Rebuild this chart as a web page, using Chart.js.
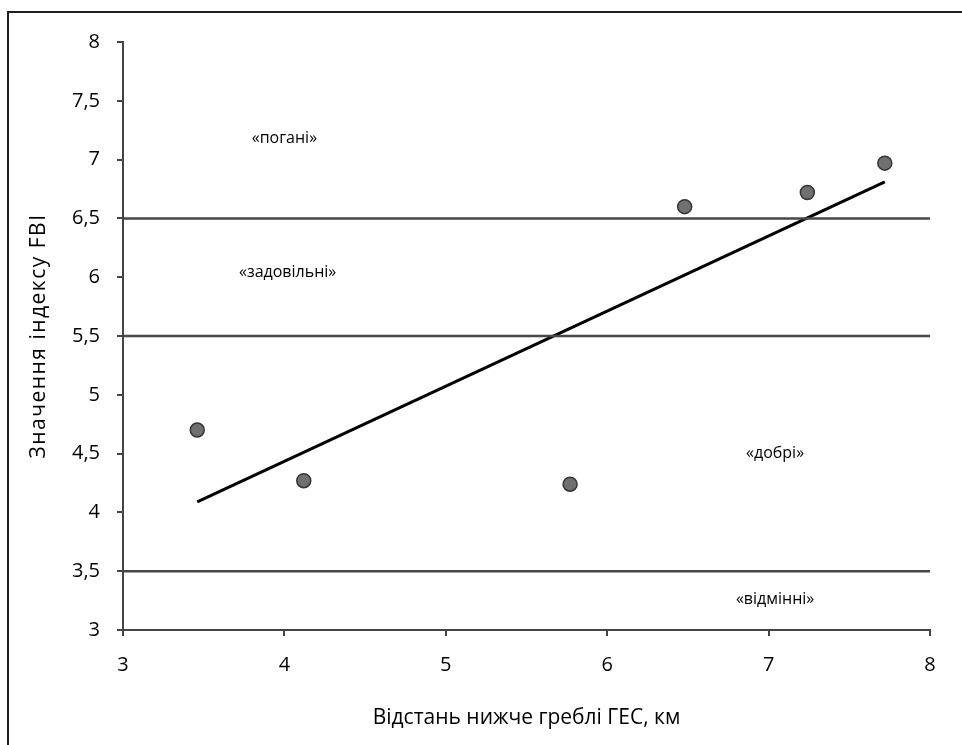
<!DOCTYPE html>
<html>
<head>
<meta charset="utf-8">
<script src="https://cdn.jsdelivr.net/npm/chart.js@4/dist/chart.umd.min.js"></script>
<style>
  html, body { margin: 0; padding: 0; background: #fff; }
  #frame {
    position: absolute; left: 7px; top: 11px; width: 953px; height: 732px;
    border-left: 2px solid #1e1e1e; border-top: 2px solid #1e1e1e;
  }
  #c { display: block; }
</style>
</head>
<body>
<div id="frame"><canvas id="c" width="953" height="732"></canvas></div>
<script>
// ---- data ----
const distanceKm = [3.46, 4.12, 5.77, 6.48, 7.24, 7.72];
const fbiValues  = [4.70, 4.27, 4.24, 6.60, 6.72, 6.97];
const trendX = [3.46, 7.72];
const trendY = [4.09, 6.81];
const classBounds = [3.5, 5.5, 6.5];
const zoneLabels = ['«відмінні»', '«добрі»', '«задовільні»', '«погані»'];
const zoneX = [7.04, 7.04, 4.02, 4.00];
const zoneY = [3.26, 4.50, 6.04, 7.18];
const xRange = [3, 8];
const yRange = [3, 8];
const xTickLabels = ['3', '4', '5', '6', '7', '8'];
const yTickLabels = ['3', '3,5', '4', '4,5', '5', '5,5', '6', '6,5', '7', '7,5', '8'];
const xTitle = 'Відстань нижче греблі ГЕС, км';
const yTitle = 'Значення індексу FBI';

const FONT = "'Open Sans', 'DejaVu Sans', sans-serif";

const datasets = [];
classBounds.forEach(b => {
  datasets.push({
    type: 'line',
    data: [{x: xRange[0], y: b}, {x: xRange[1], y: b}],
    borderColor: '#474747', borderWidth: 2.5, pointRadius: 0, fill: false
  });
});
datasets.push({
  type: 'line',
  data: trendX.map((x, i) => ({x, y: trendY[i]})),
  borderColor: '#000', borderWidth: 3, pointRadius: 0, fill: false
});
datasets.push({
  type: 'scatter',
  data: distanceKm.map((x, i) => ({x, y: fbiValues[i]})),
  backgroundColor: '#707070', borderColor: '#353535', borderWidth: 1.5,
  pointRadius: 7, pointHoverRadius: 7
});

const zonePlugin = {
  id: 'zones',
  afterDatasetsDraw(chart) {
    const {ctx, scales} = chart;
    ctx.save();
    ctx.fillStyle = '#000';
    ctx.font = "16px " + FONT;
    ctx.textAlign = 'center';
    ctx.textBaseline = 'middle';
    zoneLabels.forEach((t, i) => {
      ctx.fillText(t, scales.x.getPixelForValue(zoneX[i]), scales.y.getPixelForValue(zoneY[i]));
    });
    ctx.restore();
  },
  afterDraw(chart) {
    // y-axis title (drawn with a little letter spacing like the reference)
    const {ctx, chartArea} = chart;
    ctx.save();
    ctx.fillStyle = '#000';
    ctx.font = "21px " + FONT;
    if ('letterSpacing' in ctx) ctx.letterSpacing = '1.5px';
    ctx.textAlign = 'center';
    ctx.textBaseline = 'middle';
    ctx.translate(30, (chartArea.top + chartArea.bottom) / 2);
    ctx.rotate(-Math.PI / 2);
    ctx.fillText(yTitle, 0, 0);
    ctx.restore();
  }
};

new Chart(document.getElementById('c'), {
  data: { datasets },
  plugins: [zonePlugin],
  options: {
    responsive: false,
    animation: false,
    events: [],
    layout: { padding: { left: 0, top: 29, right: 32, bottom: 0 } },
    plugins: { legend: { display: false }, tooltip: { enabled: false } },
    scales: {
      x: {
        type: 'linear', min: xRange[0], max: xRange[1],
        afterFit(s) { s.height = 115; },
        border: { display: true, color: '#444', width: 2 },
        grid: { drawOnChartArea: false, drawTicks: true, tickLength: 6, color: '#444', lineWidth: 2 },
        ticks: {
          stepSize: 1, padding: 17, color: '#000',
          font: { family: FONT, size: 20 },
          callback: (v) => { const i = Math.round(v - xRange[0]); return xTickLabels[i]; }
        },
        title: { display: true, text: xTitle, color: '#000', font: { family: FONT, size: 21 }, padding: { top: 14, bottom: 14 } }
      },
      y: {
        type: 'linear', min: yRange[0], max: yRange[1],
        afterFit(s) { s.width = 114; },
        border: { display: true, color: '#444', width: 2 },
        grid: { drawOnChartArea: false, drawTicks: true, tickLength: 6, color: '#444', lineWidth: 2 },
        ticks: {
          stepSize: 0.5, padding: 17, color: '#000',
          font: { family: FONT, size: 20 },
          callback: (v) => { const i = Math.round((v - yRange[0]) * 2); return yTickLabels[i]; }
        },
        title: { display: false }
      }
    }
  }
});
</script>
</body>
</html>
